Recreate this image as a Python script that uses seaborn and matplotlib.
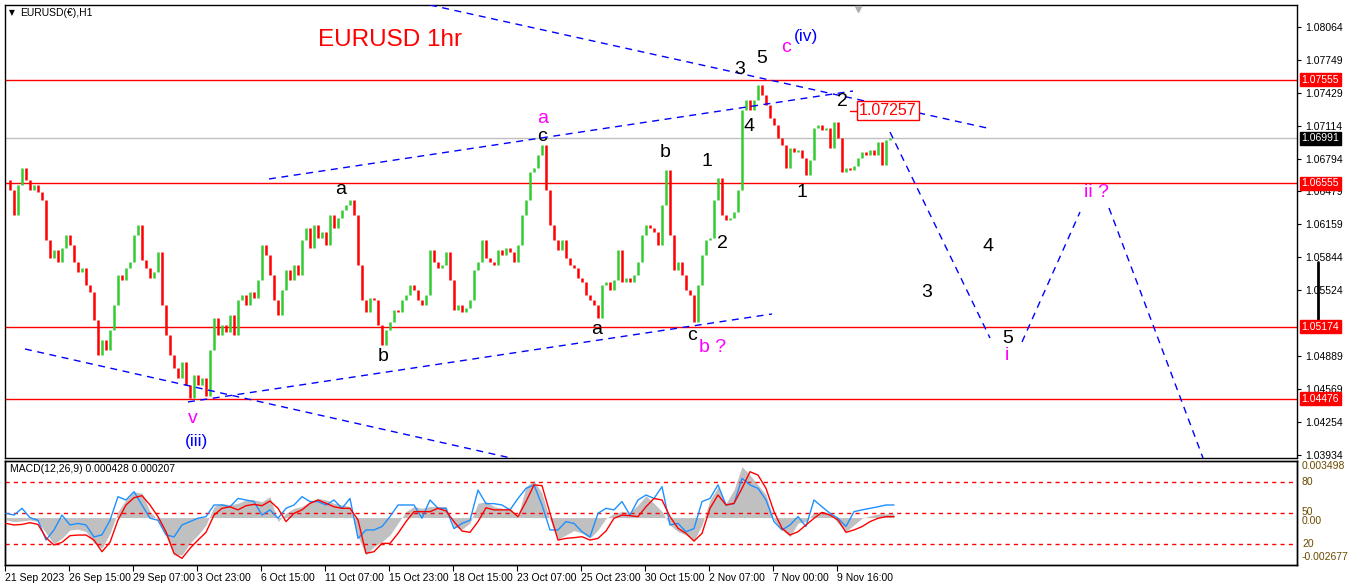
import matplotlib
matplotlib.use("Agg")
import matplotlib.pyplot as plt
import matplotlib.transforms as mtransforms
import seaborn as sns
import numpy as np
import pandas as pd

# EURUSD H1, one close every 4 bars (bar 0 = 21 Sep 2023)
bar_step = 4
closes = [
    1.06588, 1.06491, 1.06250, 1.06540, 1.06704, 1.06588, 1.06491, 1.06540, 1.06472, 1.06395,
    1.06009, 1.05835, 1.05912, 1.05797, 1.05932, 1.06057, 1.05961, 1.05797, 1.05700, 1.05739,
    1.05575, 1.05507, 1.05237, 1.04899, 1.05044, 1.04947, 1.05140, 1.05382, 1.05671, 1.05623,
    1.05739, 1.05797, 1.06057, 1.06154, 1.05816, 1.05739, 1.05642, 1.05700, 1.05893, 1.05382,
    1.05092, 1.04899, 1.04774, 1.04677, 1.04832, 1.04610, 1.04484, 1.04706, 1.04610, 1.04677,
    1.04504, 1.04947, 1.05256, 1.05092, 1.05189, 1.05121, 1.05285, 1.05092, 1.05430, 1.05478,
    1.05382, 1.05507, 1.05449, 1.05623, 1.05961, 1.05864, 1.05671, 1.05430, 1.05285, 1.05526,
    1.05719, 1.05623, 1.05768, 1.05671, 1.06009, 1.06125, 1.05932, 1.06154, 1.06028, 1.06086,
    1.05961, 1.06250, 1.06125, 1.06221, 1.06298, 1.06347, 1.06395, 1.06250, 1.05768, 1.05430,
    1.05314, 1.05449, 1.05430, 1.05189, 1.04996, 1.05140, 1.05218, 1.05333, 1.05314, 1.05430,
    1.05478, 1.05575, 1.05526, 1.05430, 1.05382, 1.05478, 1.05912, 1.05797, 1.05739, 1.05768,
    1.05893, 1.05623, 1.05333, 1.05382, 1.05314, 1.05353, 1.05430, 1.05719, 1.05797, 1.06009,
    1.05835, 1.05797, 1.05768, 1.05912, 1.05864, 1.05932, 1.05893, 1.05797, 1.05961, 1.06250,
    1.06395, 1.06665, 1.06704, 1.06829, 1.06926, 1.06491, 1.06154, 1.06009, 1.05912, 1.06009,
    1.05835, 1.05768, 1.05739, 1.05642, 1.05604, 1.05478, 1.05430, 1.05382, 1.05256, 1.05575,
    1.05604, 1.05526, 1.05623, 1.05912, 1.05604, 1.05642, 1.05604, 1.05671, 1.05797, 1.06057,
    1.06154, 1.06125, 1.06086, 1.05961, 1.06347, 1.06684, 1.06057, 1.05719, 1.05797, 1.05671,
    1.05526, 1.05478, 1.05218, 1.05575, 1.05864, 1.06009, 1.06028, 1.06395, 1.06607, 1.06250,
    1.06202, 1.06221, 1.06279, 1.06491, 1.07263, 1.07360, 1.07263, 1.07360, 1.07505, 1.07408,
    1.07312, 1.07186, 1.07119, 1.06993, 1.06926, 1.06704, 1.06897, 1.06858, 1.06877, 1.06800,
    1.06636, 1.06781, 1.07090, 1.07119, 1.07070, 1.07090, 1.06897, 1.07148, 1.06993, 1.06665,
    1.06704, 1.06684, 1.06723, 1.06800, 1.06858, 1.06829, 1.06877, 1.06829, 1.06955, 1.06733,
    1.06974, 1.06993,
]

# lower panel, read every 8 bars
osc_step = 8
osc_blue = [
    49.7, 48, 54.5, 45.5, 43, 24, 33.7, 48, 38.5, 40,
    38.5, 27, 29, 43, 65.7, 62.5, 70.5, 57.7, 45, 43,
    29, 27, 38.5, 41.7, 45, 46.5, 57.7, 57.7, 56, 64,
    62.5, 61, 48, 53, 45, 54.5, 57.7, 65.7, 61, 61,
    57.7, 62.5, 54.5, 64, 25.6, 33.7, 33.7, 37, 46.5, 57.7,
    57.7, 57.7, 45, 62.5, 54.5,
    54.5, 35, 40, 43, 72, 59, 59, 57.7, 53, 64,
    73.7, 77, 57.7, 33.7, 33.7, 41.7, 40, 32, 27, 49.7,
    54.5, 53, 61, 48, 62.5, 67.3, 64, 75.3, 38.5, 40,
    32, 35, 61, 64, 77, 57.7, 59, 83.3, 77, 73.7,
    62.5, 41.7, 33.7, 38.5, 46.5, 37, 62.5, 56, 49.7, 45,
    37, 51.3, 53, 54.5, 56, 57.7, 57.7,
]
osc_red = [
    40, 38.5, 39, 40.7, 39, 26.3, 19.2, 21.8, 28.2, 28.8,
    28.8, 24, 12.8, 21.8, 43.3, 57.7, 64.7, 66.7, 57.7, 46.5,
    32, 11.2, 6.4, 16, 24, 31.4, 48, 54.5, 56, 53,
    57, 58.3, 57, 61.5, 54.5, 41.7, 49.7, 53, 59.3, 62.5,
    59.3, 56, 54.5, 54.5, 43.3, 11.2, 12.8, 20.8, 20.8, 30.4,
    41.7, 51.3, 51.3, 51.3, 54.5,
    52, 41.7, 32.7, 31.4, 41.7, 55, 53, 53, 53, 46.5,
    61, 77, 76.3, 49.7, 24, 25.6, 26.3, 27.2, 24, 25.6,
    32.7, 44.9, 48, 47.4, 46.5, 56, 64, 62.5, 46.5, 35.3,
    30.4, 23, 30.4, 54.5, 67.3, 57.7, 59.3, 73.7, 89.7, 86.5,
    73.7, 51.3, 35.3, 28.8, 32, 38.5, 44.9, 50.6, 48, 43.3,
    31.4, 33.7, 36.9, 41.7, 44.9, 46.5, 46.5,
]
macd_hist = [
    -0.00016, -0.00027, -0.00023, -0.00016, -0.00027, -0.00106, -0.00179, -0.00140, -0.00084, -0.00079,
    -0.00095, -0.00174, -0.00208, -0.00106, 0.00041, 0.00120, 0.00176, 0.00165, 0.00041, -0.00016,
    -0.00129, -0.00253, -0.00253, -0.00174, -0.00118, -0.00050, 0.00075, 0.00097, 0.00086, 0.00097,
    0.00120, 0.00120, 0.00108, 0.00142, -0.00027, 0.00029, 0.00063, 0.00075, 0.00108, 0.00131,
    0.00120, 0.00097, 0.00086, 0.00075, -0.00129, -0.00253, -0.00197, -0.00163, -0.00118, -0.00038,
    0.00041, 0.00075, 0.00063, 0.00075, 0.00075,
    0.00075, -0.00061, -0.00079, -0.00038, 0.00097, 0.00108, 0.00075, 0.00063, 0.00063, 0.00007,
    0.00210, 0.00251, 0.00165, -0.00016, -0.00147, -0.00118, -0.00088, -0.00106, -0.00140, -0.00084,
    -0.00005, 0.00029, 0.00041, 0.00034, 0.00086, 0.00147, 0.00097, 0.00041, -0.00050, -0.00095,
    -0.00118, -0.00156, -0.00050, 0.00120, 0.00206, 0.00097, 0.00188, 0.00346, 0.00289, 0.00221,
    0.00154, -0.00016, -0.00084, -0.00129, -0.00038, -0.00027, 0.00034, 0.00041, 0.00029, -0.00038,
    -0.00095, -0.00050, -0.00005, 0.00011, 0.00025, 0.00025, 0.00025,
]
osc_levels = [80, 50, 20]

date_step = 64
date_labels = ["21 Sep 2023", "26 Sep 15:00", "29 Sep 07:00", "3 Oct 23:00", "6 Oct 15:00",
               "11 Oct 07:00", "15 Oct 23:00", "18 Oct 15:00", "23 Oct 07:00", "25 Oct 23:00",
               "30 Oct 15:00", "2 Nov 07:00", "7 Nov 00:00", "9 Nov 16:00"]

price_ticks = [1.08064, 1.07749, 1.07429, 1.07114, 1.06794, 1.06479, 1.06159,
               1.05844, 1.05524, 1.04889, 1.04569, 1.04254, 1.03934]
red_levels = [1.07555, 1.06555, 1.05174, 1.04476]
last_price = 1.06991
target_price = 1.07257

GREEN = "#33cc33"
RED = "#ff0000"
BLUE = "#0000ff"
MAGENTA = "#ff00ff"

sns.set_theme(style="white")
plt.rcParams["font.family"] = ["Liberation Sans", "DejaVu Sans"]

W, H = 1366, 588
fig = plt.figure(figsize=(W / 100, H / 100), dpi=100, facecolor="white")


def px_axes(x0, y0, x1, y1):
    return fig.add_axes([x0 / W, 1 - y1 / H, (x1 - x0) / W, (y1 - y0) / H])


ax = px_axes(5, 5, 1297, 458)
ax2 = px_axes(5, 461, 1297, 565)

# ---- price bars
df = pd.DataFrame({"bar": np.arange(len(closes)) * bar_step, "close": closes})
df["prev"] = df["close"].shift(1).fillna(df["close"])
df["lo"] = df[["prev", "close"]].min(axis=1)
df["hi"] = df[["prev", "close"]].max(axis=1)
colors = np.where(df["close"] >= df["prev"], GREEN, RED)
ax.vlines(df["bar"], df["lo"], df["hi"], colors=colors, lw=1.8, zorder=3)

ax.set_xlim(-1, 1291)
ax.set_ylim(1.03905, 1.08277)

for lv in red_levels:
    ax.axhline(lv, color=RED, lw=1, zorder=2)
ax.axhline(last_price, color="#c0c0c0", lw=1, zorder=1)

dash = (0, (5, 4))
trend_lines = [
    ((424, 981), (1.08277, 1.07090)),
    ((19, 509), (1.04957, 1.03896)),
    ((182, 766), (1.04446, 1.05295)),
    ((263, 847), (1.06598, 1.07447)),
    ((884, 984), (1.07051, 1.05063)),
    ((1016, 1074), (1.05025, 1.06279)),
    ((1103, 1197), (1.06318, 1.03905)),
]
for xs, ys in trend_lines:
    ax.plot(xs, ys, color=BLUE, lw=1, linestyle=dash, zorder=4)

# wave labels
black_labels = [
    ("a", 335, 1.06501), ("b", 377, 1.04880), ("c", 536, 1.07005), ("b", 659, 1.06849),
    ("1", 701, 1.06771), ("a", 591, 1.05141), ("c", 686, 1.05092), ("2", 716, 1.05980),
    ("3", 734, 1.07650), ("5", 756, 1.07765), ("4", 743, 1.07100), ("1", 796, 1.06463),
    ("2", 836, 1.07341), ("3", 921, 1.05498), ("4", 982, 1.05951), ("5", 1002, 1.05063),
]
for t, x, y in black_labels:
    ax.text(x, y, t, color="black", fontsize=14, ha="center", va="center", zorder=6)

magenta_labels = [
    ("a", 537, 1.07185), ("b ?", 707, 1.04967), ("c", 780, 1.07870),
    ("i", 1001, 1.04890), ("ii ?", 1091, 1.06472), ("v", 187, 1.04282),
]
for t, x, y in magenta_labels:
    ax.text(x, y, t, color=MAGENTA, fontsize=14, ha="center", va="center", zorder=6)

ax.text(800, 1.07975, "(iv)", color=BLUE, fontsize=12.5, ha="center", va="center", zorder=6)
ax.text(190, 1.04060, "(iii)", color=BLUE, fontsize=12.5, ha="center", va="center", zorder=6)

ax.text(312, 1.07939, "EURUSD 1hr", color=RED, fontsize=17.5, ha="left", va="center")

ax.plot([844, 851], [target_price, target_price], color=RED, lw=1, zorder=5)
ax.text(882, target_price, "1.07257", color=RED, fontsize=11.5, ha="center", va="center",
        zorder=7, bbox=dict(boxstyle="square,pad=0.12", fc="white", ec=RED, lw=1))

# right price scale
ax.yaxis.tick_right()
ax.set_yticks(price_ticks)
ax.set_yticklabels([f"{p:.5f}" for p in price_ticks])
ax.tick_params(axis="y", direction="out", length=3, width=0.8, pad=3, labelsize=7.5,
               colors="black", right=True, left=False)
ax.set_xticks([])
for s in ax.spines.values():
    s.set_color("black")
    s.set_linewidth(1)

tr = mtransforms.blended_transform_factory(ax.transAxes, ax.transData)
for lv in red_levels:
    ax.text(1.0035, lv, f"{lv:.5f}", transform=tr, color="white", fontsize=7.5,
            ha="left", va="center", clip_on=False, zorder=8,
            bbox=dict(boxstyle="square,pad=0.15", fc=RED, ec=RED))
ax.text(1.0035, last_price, f"{last_price:.5f}", transform=tr, color="white", fontsize=7.5,
        ha="left", va="center", clip_on=False, zorder=8,
        bbox=dict(boxstyle="square,pad=0.15", fc="black", ec="black"))
ax.plot([1.0163, 1.0163], [1.05797, 1.05237], transform=tr, color="black", lw=2,
        clip_on=False)
ax.plot([852], [1.08235], marker="v", color="#b0b0b0", ms=5, clip_on=False, zorder=9)

fig.text(9 / W, 1 - 13 / H, "\u25bc", fontsize=5.5, color="black", va="center",
         family=["DejaVu Sans"])
fig.text(20 / W, 1 - 13 / H, "EURUSD(\u20ac),H1", fontsize=7.5, color="black", va="center")

# ---- lower panel
osc = pd.DataFrame({"bar": np.arange(len(osc_blue)) * osc_step,
                    "blue": osc_blue, "red": osc_red, "hist": macd_hist})
ax2.fill_between(osc["bar"], 0, osc["hist"], color="#c0c0c0", lw=0, zorder=1)
ax2.set_ylim(-0.00322, 0.00384)
ax2.set_xlim(-1, 1291)

ax3 = ax2.twinx()
ax3.set_ylim(0, 100)
for lv in osc_levels:
    ax3.axhline(lv, color=RED, lw=1, linestyle=(0, (3, 3)), zorder=2)
sns.lineplot(data=osc, x="bar", y="blue", ax=ax3, color="#1e90ff", lw=1, zorder=3)
sns.lineplot(data=osc, x="bar", y="red", ax=ax3, color=RED, lw=1, zorder=4)
ax3.set_ylabel("")
ax3.set_yticks([])
ax2.set_yticks([])
ax2.set_ylabel("")
ax3.set_xlabel("")
ax2.set_xlabel("")

ax2.set_xticks([-1 + date_step * k for k in range(len(date_labels))])
ax2.set_xticklabels(date_labels, ha="left", fontsize=7.5)
ax2.tick_params(axis="x", direction="out", length=4, width=0.8, pad=2, bottom=True,
                colors="black")
for a in (ax2, ax3):
    for s in a.spines.values():
        s.set_color("black")
        s.set_linewidth(1)

fig.text(10 / W, 1 - 469 / H, "MACD(12,26,9) 0.000428 0.000207", fontsize=7.5,
         color="black", va="center")
side = [("0.003498", 466), ("80", 482), ("50", 512), ("0.00", 521), ("20", 544),
        ("-0.002677", 557)]
for t, y in side:
    fig.text(1302 / W, 1 - y / H, t, fontsize=7.5, color="#6b4a00", va="center")

fig.savefig("out.png", dpi=100, facecolor="white")
